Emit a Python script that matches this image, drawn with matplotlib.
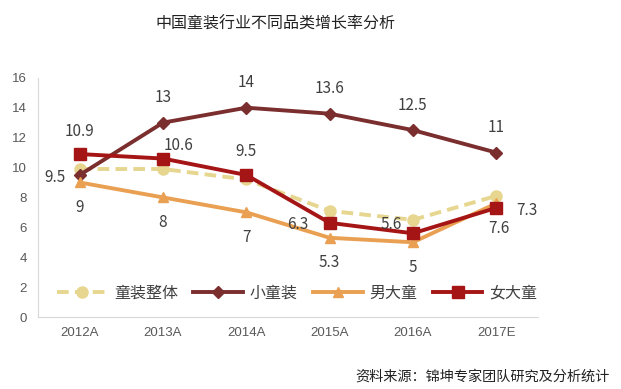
import matplotlib.pyplot as plt

plt.rcParams['font.family'] = ['Noto Sans CJK SC', 'DejaVu Sans']

years = ['2012A', '2013A', '2014A', '2015A', '2016A', '2017E']
total = [9.9, 9.9, 9.2, 7.1, 6.5, 8.1]
small = [9.5, 13, 14, 13.6, 12.5, 11]
boys = [9, 8, 7, 5.3, 5, 7.6]
girls = [10.9, 10.6, 9.5, 6.3, 5.6, 7.3]

c_total = '#E6D68F'
c_small = '#7B2E2E'
c_boys = '#EAA052'
c_girls = '#A51515'
grey = '#595959'

fig = plt.figure(figsize=(6.21, 3.89), dpi=100)
ax = fig.add_axes([0.0612, 0.185, 0.805, 0.615])
x = list(range(len(years)))

ax.plot(x, total, color=c_total, lw=2.8, ls=(0, (3, 1.6)), marker='o', ms=8, label='童装整体')
ax.plot(x, small, color=c_small, lw=2.8, marker='D', ms=6, label='小童装')
ax.plot(x, boys, color=c_boys, lw=2.8, marker='^', ms=7, label='男大童')
ax.plot(x, girls, color=c_girls, lw=2.8, marker='s', ms=8, label='女大童')

fs = 11
tc = '#404040'
# 小童装 labels
s_off = [(-18, -2), (0, 18), (0, 18), (0, 18), (0, 18), (0, 18)]
for i, (dx, dy) in enumerate(s_off):
    ax.annotate(f'{small[i]:g}', (i, small[i]), xytext=(dx, dy), textcoords='offset points', ha='center', va='center', fontsize=fs, color=tc)
# 女大童 labels
g_off = [(0, 16.5), (11.5, 9.5), (0, 17), (-23, -1.5), (-16, 6), (22, -2)]
for i, (dx, dy) in enumerate(g_off):
    ax.annotate(f'{girls[i]:g}', (i, girls[i]), xytext=(dx, dy), textcoords='offset points', ha='center', va='center', fontsize=fs, color=tc)
# 男大童 labels
b_off = [(0, -18), (0, -18), (0, -18), (0, -18), (0, -18), (2, -18)]
for i, (dx, dy) in enumerate(b_off):
    ax.annotate(f'{boys[i]:g}', (i, boys[i]), xytext=(dx, dy), textcoords='offset points', ha='center', va='center', fontsize=fs, color=tc)

ax.set_xlim(-0.5, 5.5)
ax.set_ylim(0, 16)
ax.set_yticks(range(0, 17, 2))
ax.set_xticks(x)
ax.set_xticklabels(years)
ax.tick_params(colors=grey, labelsize=9.5, length=0, pad=8)
ax.tick_params(axis='x', pad=7)
for lab in ax.get_xticklabels() + ax.get_yticklabels():
    lab.set_family('Liberation Sans')
for s in ['top', 'right']:
    ax.spines[s].set_visible(False)
for s in ['left', 'bottom']:
    ax.spines[s].set_color('#D9D9D9')

ax.legend(loc='center', bbox_to_anchor=(0.519, 0.1), ncol=4, frameon=False,
          fontsize=11.5, handlelength=3.1, handletextpad=0.45, columnspacing=0.95,
          labelcolor=tc)

fig.text(0.443, 0.938, '中国童装行业不同品类增长率分析', ha='center', va='center', fontsize=11.5, color='#222222')
fig.text(0.982, 0.031, '资料来源：锦坤专家团队研究及分析统计', ha='right', va='center', fontsize=10.2, color='#222222')

fig.savefig('out.png', dpi=100)
